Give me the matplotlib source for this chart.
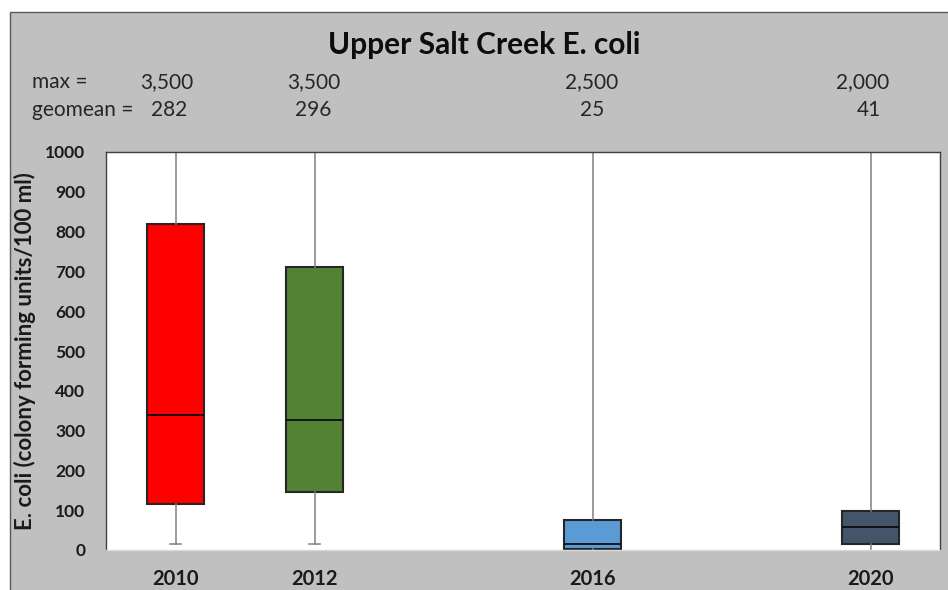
import matplotlib
matplotlib.use("Agg")
import matplotlib.pyplot as plt
from matplotlib.patches import Rectangle
import matplotlib.transforms as mtransforms

plt.rcParams['font.family'] = ['Lato', 'DejaVu Sans']

years = [2010, 2012, 2016, 2020]
year_labels = ["2010", "2012", "2016", "2020"]
whisker_low = [15, 15, 0, 0]
q1 = [116, 146, 2, 15]
median = [339, 327, 15, 58]
q3 = [819, 711, 75, 98]
max_vals = [3500, 3500, 2500, 2000]
max_labels = ["3,500", "3,500", "2,500", "2,000"]
geomean_labels = ["282", "296", "25", "41"]
colors = ["#FF0000", "#548235", "#5B9BD5", "#44546A"]
yticks = [0, 100, 200, 300, 400, 500, 600, 700, 800, 900, 1000]

# layout-only horizontal nudges (pixels) for the header labels
max_dx = [-9, -1, -1, -8]
geo_dx = [-6, -1, 0, -2]

W, H = 948, 590
fig = plt.figure(figsize=(W / 100, H / 100), dpi=100)
fig.patch.set_facecolor("white")

# gray chart panel
fig.patches.append(Rectangle((10 / W, -0.01), 1.0, 1 - 12 / H + 0.01,
                             transform=fig.transFigure, facecolor="#C0C0C0",
                             edgecolor="#595959", linewidth=1.0, zorder=-10))

ax = fig.add_axes([106 / W, (H - 550) / H, (940 - 106) / W, 398 / H])
ax.set_zorder(1)
ax.set_facecolor("white")

stats = []
for i in range(len(years)):
    stats.append(dict(whislo=whisker_low[i], q1=q1[i], med=median[i],
                      q3=q3[i], whishi=max_vals[i], fliers=[]))

bp = ax.bxp(stats, positions=years, widths=0.82, patch_artist=True,
            showfliers=False, manage_ticks=False,
            boxprops=dict(edgecolor="#262626", linewidth=1.5),
            medianprops=dict(color="#0d0d0d", linewidth=1.3),
            whiskerprops=dict(color="#808080", linewidth=1.1),
            capprops=dict(color="#808080", linewidth=1.1),
            capwidths=0.16)
for patch, c in zip(bp['boxes'], colors):
    patch.set_facecolor(c)
# caps sitting on the zero line are not visible in the reference
for i, lo in enumerate(whisker_low):
    if lo <= 0:
        bp['caps'][2 * i].set_visible(False)

ax.set_xlim(2009, 2021)
ax.set_ylim(0, 1000)
ax.set_yticks(yticks)
ax.set_yticklabels([str(v) for v in yticks], fontsize=12.5, fontweight="bold",
                   color="#1a1a1a")
ax.set_xticks(years)
ax.set_xticklabels(year_labels, fontsize=14.5, fontweight="bold",
                   color="#1a1a1a")
ax.tick_params(axis="both", length=0)
ax.tick_params(axis="x", pad=14)
ax.tick_params(axis="y", pad=15)
for s in ["left", "top", "right"]:
    ax.spines[s].set_color("#404040")
    ax.spines[s].set_linewidth(1.0)
ax.spines["bottom"].set_color("#d9d9d9")
ax.spines["bottom"].set_linewidth(1.0)

ax.set_ylabel("E. coli (colony forming units/100 ml)", fontsize=16,
              fontweight="bold", color="#1a1a1a")
ax.yaxis.set_label_coords(-(106 - 25) / 834, 0.5)
ax.yaxis.label.set_va("center")

fig.text(484 / W, 1 - 45 / H, "Upper Salt Creek E. coli", ha="center",
         va="center", fontsize=21.5, fontweight="bold", color="#0d0d0d")

fig.text(32 / W, 1 - 82 / H, "max =", ha="left", va="center", fontsize=15,
         color="#262626")
fig.text(32 / W, 1 - 110 / H, "geomean =", ha="left", va="center",
         fontsize=15, color="#262626")
for i, yr in enumerate(years):
    tr_max = mtransforms.offset_copy(
        mtransforms.blended_transform_factory(ax.transData, fig.transFigure),
        fig=fig, x=max_dx[i], y=0, units="dots")
    tr_geo = mtransforms.offset_copy(
        mtransforms.blended_transform_factory(ax.transData, fig.transFigure),
        fig=fig, x=geo_dx[i], y=0, units="dots")
    fig.text(yr, 1 - 82 / H, max_labels[i], transform=tr_max,
             ha="center", va="center", fontsize=15, color="#262626")
    fig.text(yr, 1 - 110 / H, geomean_labels[i], transform=tr_geo,
             ha="center", va="center", fontsize=15, color="#262626")

fig.savefig("out.png", dpi=100)
